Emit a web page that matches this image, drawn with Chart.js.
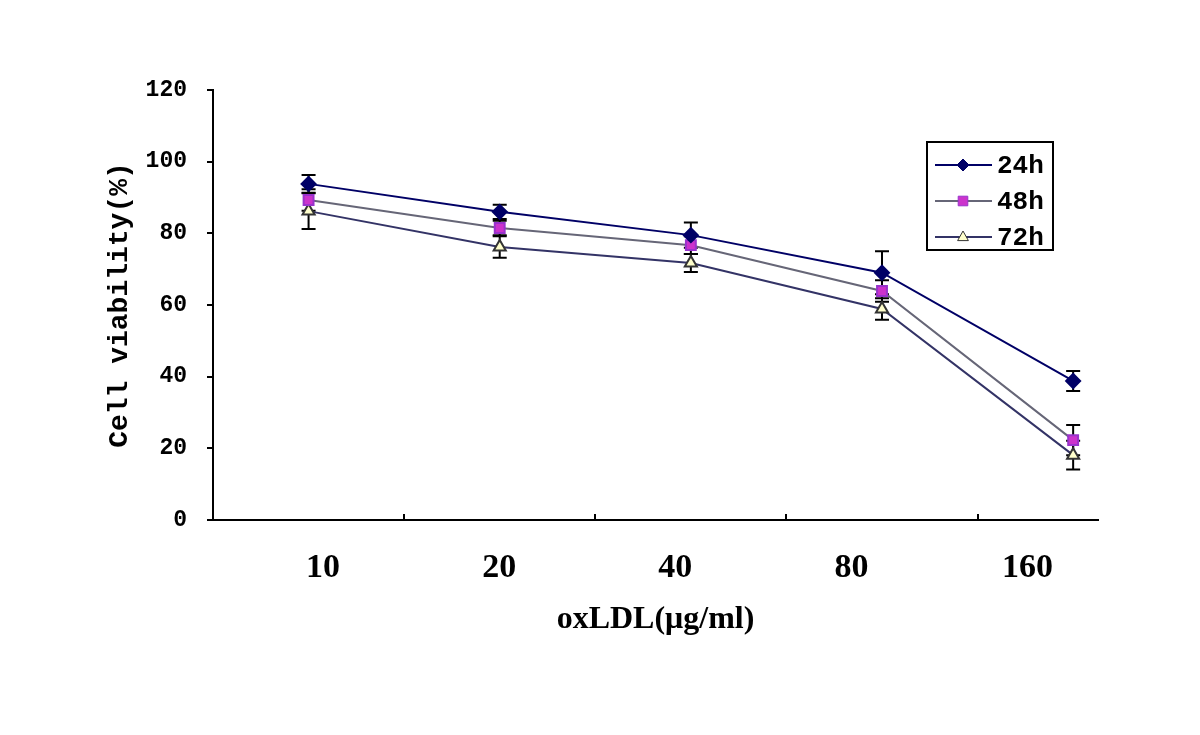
<!DOCTYPE html>
<html>
<head>
<meta charset="utf-8">
<script src="https://cdn.jsdelivr.net/npm/chart.js@4"></script>
<style>
  body { margin: 0; background: #fff; }
  #wrap { width: 1200px; height: 735px; }
</style>
</head>
<body>
<div id="wrap"><canvas id="c" width="1200" height="735"></canvas></div>
<script>
// oxLDL doses (categories) and their slot on the x scale
const doses = ['10', '20', '40', '80', '160'];
const slots = [1, 2, 3, 4, 5];

// cell viability (%) per incubation time
const v24 = [93.8, 86.0, 79.5, 69.0, 38.8];
const v48 = [89.3, 81.5, 76.7, 63.9, 22.3];
const v72 = [86.2, 76.2, 71.7, 58.9, 18.1];

// error bar half-heights
const e24 = [2.5, 2.0, 3.5, 6.0, 2.8];
const e48 = [3.0, 2.0, 2.5, 3.0, 4.2];
const e72 = [5.0, 3.0, 2.5, 3.0, 4.0];

const yTicks = [0, 20, 40, 60, 80, 100, 120];

function pts(vals) {
    return vals.map((v, i) => ({ x: slots[i], y: v }));
}

// error bars, drawn with the chart's own scales
const errorBars = {
    id: 'errorBars',
    beforeDatasetsDraw(chart) {
        const ctx = chart.ctx;
        const xs = chart.scales.x, ys = chart.scales.y;
        ctx.save();
        ctx.strokeStyle = '#000';
        ctx.lineWidth = 2;
        chart.data.datasets.forEach(ds => {
            ds.data.forEach((p, i) => {
                const e = ds.errors[i];
                const px = xs.getPixelForValue(p.x);
                const top = ys.getPixelForValue(p.y + e);
                const bot = ys.getPixelForValue(p.y - e);
                ctx.beginPath();
                ctx.moveTo(px, top); ctx.lineTo(px, bot);
                ctx.moveTo(px - 7, top); ctx.lineTo(px + 7, top);
                ctx.moveTo(px - 7, bot); ctx.lineTo(px + 7, bot);
                ctx.stroke();
            });
        });
        ctx.restore();
    }
};

function marker(ctx, style, x, y, r) {
    ctx.beginPath();
    if (style === 'rectRot') {
        ctx.moveTo(x, y - r); ctx.lineTo(x + r, y); ctx.lineTo(x, y + r); ctx.lineTo(x - r, y);
    } else if (style === 'rect') {
        ctx.rect(x - r * 0.8, y - r * 0.8, r * 1.6, r * 1.6);
    } else {
        ctx.moveTo(x, y - r); ctx.lineTo(x + r * 0.9, y + r * 0.6); ctx.lineTo(x - r * 0.9, y + r * 0.6);
    }
    ctx.closePath();
    ctx.fill();
    ctx.stroke();
}

// boxed legend in the upper right
const boxLegend = {
    id: 'boxLegend',
    afterDraw(chart) {
        const ctx = chart.ctx;
        ctx.save();
        ctx.strokeStyle = '#000';
        ctx.lineWidth = 2;
        ctx.strokeRect(927, 142, 126, 108);
        const rows = [165, 201, 237];
        chart.data.datasets.forEach((ds, i) => {
            const y = rows[i];
            ctx.strokeStyle = ds.borderColor;
            ctx.lineWidth = 2;
            ctx.beginPath();
            ctx.moveTo(935, y); ctx.lineTo(992, y);
            ctx.stroke();
            ctx.fillStyle = ds.pointBackgroundColor;
            ctx.strokeStyle = ds.pointBorderColor;
            ctx.lineWidth = 1;
            marker(ctx, ds.pointStyle, 963, y, 6);
            ctx.fillStyle = '#000';
            ctx.font = 'bold 26px "Liberation Mono"';
            ctx.textBaseline = 'middle';
            ctx.fillText(ds.label, 997, y + 1);
        });
        ctx.restore();
    }
};

new Chart(document.getElementById('c'), {
    type: 'line',
    data: {
        datasets: [
            {
                label: '24h', data: pts(v24), errors: e24,
                borderColor: '#000066', borderWidth: 2,
                pointStyle: 'rectRot', pointRadius: 7,
                pointBackgroundColor: '#000066', pointBorderColor: '#000066'
            },
            {
                label: '48h', data: pts(v48), errors: e48,
                borderColor: '#666677', borderWidth: 2,
                pointStyle: 'rect', pointRadius: 7,
                pointBackgroundColor: '#cc33cc', pointBorderColor: '#9933cc'
            },
            {
                label: '72h', data: pts(v72), errors: e72,
                borderColor: '#333366', borderWidth: 2,
                pointStyle: 'triangle', pointRadius: 7,
                pointBackgroundColor: '#ffffcc', pointBorderColor: '#333333'
            }
        ]
    },
    options: {
        responsive: false,
        animation: false,
        layout: { autoPadding: false, padding: { top: 90, right: 102, left: 0, bottom: 0 } },
        plugins: { legend: { display: false }, tooltip: { enabled: false } },
        scales: {
            x: {
                type: 'linear', position: 'bottom', weight: 0,
                min: 0.5, max: 5.13,
                afterBuildTicks: s => { s.ticks = [1.5, 2.5, 3.5, 4.5].map(v => ({ value: v })); },
                afterFit: s => { s.height = 0; },
                ticks: { display: false },
                grid: { drawOnChartArea: false, tickLength: -6, color: '#000', lineWidth: 2 },
                border: { color: '#000', width: 2 }
            },
            xLabels: {
                type: 'linear', position: 'bottom', weight: 1,
                min: 0.375, max: 5.4,
                afterBuildTicks: s => { s.ticks = slots.map(v => ({ value: v })); },
                afterFit: s => { s.height = 215; },
                ticks: {
                    autoSkip: false, maxRotation: 0, padding: 20, color: '#000',
                    font: { family: '"Liberation Serif"', size: 34, weight: 'bold' },
                    callback: v => doses[slots.indexOf(v)]
                },
                grid: { display: false },
                border: { display: false },
                title: {
                    display: true, text: 'oxLDL(μg/ml)', color: '#000',
                    font: { family: '"Liberation Serif"', size: 32, weight: 'bold' },
                    padding: { top: 0, bottom: 96 }
                }
            },
            y: {
                min: 0, max: 120,
                afterBuildTicks: s => { s.ticks = yTicks.map(v => ({ value: v })); },
                afterFit: s => { s.width = 213; },
                ticks: {
                    padding: 20, color: '#000',
                    font: { family: '"Liberation Mono"', size: 23, weight: 'bold' }
                },
                grid: { drawOnChartArea: false, tickLength: 6, color: '#000', lineWidth: 2 },
                border: { color: '#000', width: 2 },
                title: {
                    display: true, text: 'Cell viability(%)', color: '#000',
                    font: { family: '"Liberation Mono"', size: 28, weight: 'bold' },
                    padding: { top: 103, bottom: 0 }
                }
            }
        }
    },
    plugins: [errorBars, boxLegend]
});
</script>
</body>
</html>
